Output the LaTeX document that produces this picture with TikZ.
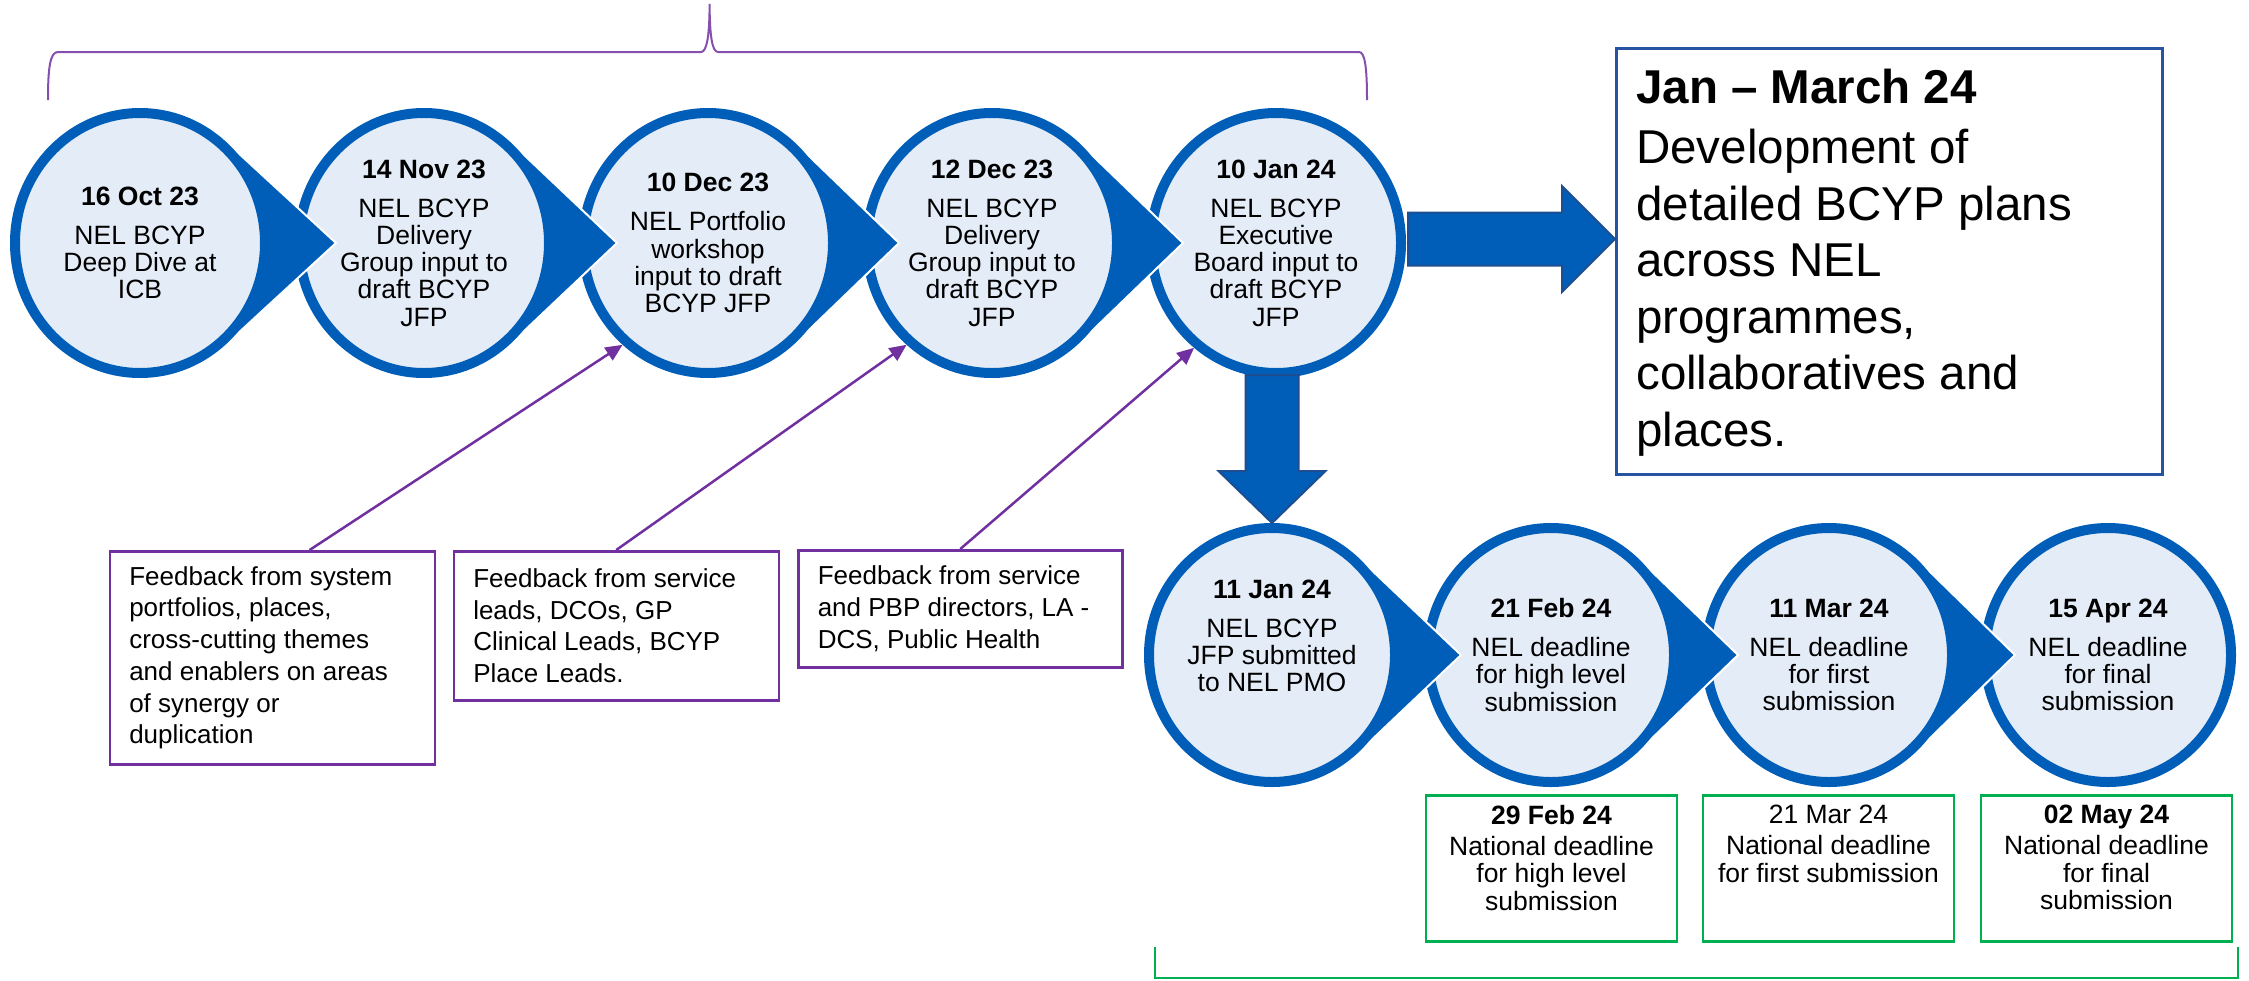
\documentclass[tikz,border=0pt]{standalone}
\usepackage{fontspec}
\setmainfont{Liberation Sans}
\usetikzlibrary{shapes.geometric,calc,arrows.meta}

\definecolor{nhsblue}{RGB}{0,94,184}
\definecolor{stagefill}{RGB}{228,236,247}
\definecolor{arrowedge}{RGB}{28,78,145}
\definecolor{planedge}{RGB}{38,84,160}
\definecolor{fbpurple}{RGB}{112,48,160}
\definecolor{natgreen}{RGB}{0,176,80}

% triangular pointer on the right of a stage: centre, tangent x, tangent y, tip x
\newcommand{\stagepointer}[4]{%
  \path[pointer] ($(#1)+(#2,-#3)$) -- ($(#1)+(#4,0)$) -- ($(#1)+(#2,#3)$);}

\begin{document}
\begin{tikzpicture}[x=1pt,y=-1pt,
  stage/.style={ellipse, draw=nhsblue, fill=stagefill, line width=10pt,
    inner sep=0pt, align=center, text=black,
    font=\fontsize{26.5pt}{27.2pt}\selectfont},
  topstage/.style={stage, minimum width=250pt, minimum height=260pt},
  lowstage/.style={stage, minimum width=246pt, minimum height=254pt},
  pointer/.style={fill=nhsblue, draw=white, line width=2pt},
  fbbox/.style={draw=fbpurple, line width=2.5pt, inner ysep=0pt, inner xsep=19.5pt,
    anchor=north west, font=\fontsize{26pt}{31.7pt}\selectfont},
  natbox/.style={draw=natgreen, line width=2.5pt, inner sep=0pt, anchor=north,
    font=\fontsize{26.5pt}{27.2pt}\selectfont},
  planbox/.style={draw=planedge, line width=2.5pt, inner ysep=0pt, inner xsep=20pt,
    anchor=north west, font=\fontsize{47.5pt}{56.5pt}\selectfont},
  feed/.style={draw=fbpurple, line width=2.5pt, -{Triangle[length=17pt,width=15pt]}},
  bigarrow/.style={fill=nhsblue, draw=arrowedge, line width=2pt},
  brace/.style={draw=fbpurple!85!white, line width=2pt},
  natline/.style={draw=natgreen, line width=2pt}
]
\useasboundingbox (0,0) rectangle (2249,980);

% stage centres
\coordinate (k1) at (140,243);
\coordinate (k2) at (424,243);
\coordinate (k3) at (708,243);
\coordinate (k4) at (992,243);
\coordinate (k5) at (1276,243);
\coordinate (m1) at (1272,655);
\coordinate (m2) at (1551,655);
\coordinate (m3) at (1829,655);
\coordinate (m4) at (2108,655);

% brace over the first five stages
\draw[brace] (48,100) .. controls (48,68) and (50,52) .. (58,52) -- (701,52)
  .. controls (707,52) and (709.5,35) .. (709.6,4)
  .. controls (709.7,35) and (712,52) .. (718,52) -- (1359,52)
  .. controls (1365,52) and (1367,68) .. (1367,100);

% upper row, drawn right to left so each pointer overlaps the next stage
\node[topstage] (c5) at (k5) {\textbf{10 Jan 24}\\[11.8pt]NEL BCYP\\Executive\\Board input to\\draft BCYP\\JFP};
\stagepointer{k4}{87.6}{99.8}{191}
\node[topstage] (c4) at (k4) {\textbf{12 Dec 23}\\[11.8pt]NEL BCYP\\Delivery\\Group input to\\draft BCYP\\JFP};
\stagepointer{k3}{87.6}{99.8}{191}
\node[topstage] (c3) at (k3) {\textbf{10 Dec 23}\\[11.8pt]NEL Portfolio\\workshop\\input to draft\\BCYP JFP};
\stagepointer{k2}{87.6}{99.8}{193}
\node[topstage] (c2) at (k2) {\textbf{14 Nov 23}\\[11.8pt]NEL BCYP\\Delivery\\Group input to\\draft BCYP\\JFP};
\stagepointer{k1}{87.6}{99.8}{196}
\node[topstage] (c1) at (k1) {\textbf{16 Oct 23}\\[11.8pt]NEL BCYP\\Deep Dive at\\ICB};

% lower row
\node[lowstage] (d4) at (m4) {\textbf{15 Apr 24}\\[11.8pt]NEL deadline\\for final\\submission};
\stagepointer{m3}{87.1}{96.7}{186}
\node[lowstage] (d3) at (m3) {\textbf{11 Mar 24}\\[11.8pt]NEL deadline\\for first\\submission};
\stagepointer{m2}{87.1}{96.7}{187}
\node[lowstage] (d2) at (m2) {\textbf{21 Feb 24}\\[11.8pt]NEL deadline\\for high level\\submission};
\stagepointer{m1}{87.1}{96.7}{189}
\node[lowstage] (d1) at (m1) {\textbf{11 Jan 24}\\[11.8pt]NEL BCYP\\JFP submitted\\to NEL PMO\\[11.8pt]\mbox{}};

% planning box
\node[planbox] (plan) at (1615,47) {\parbox[c][426pt][t]{506pt}{\raggedright\vspace*{21pt}%
  \textbf{Jan \textendash{} March 24}\\[3.5pt]Development of\\detailed BCYP plans\\across NEL\\programmes,\\collaboratives and\\places.}};

% block arrows
\coordinate (rtip) at ($(c5.east -| plan.west)+(0,-4)$);
\path[bigarrow] ($(c5.east)+(2,-30.5)$) -- ($(rtip)+(-53,-26.5)$) -- ($(rtip)+(-53,-53)$)
  -- (rtip) -- ($(rtip)+(-53,53)$) -- ($(rtip)+(-53,26.5)$) -- ($(c5.east)+(2,22.5)$) -- cycle;
\coordinate (dtop) at (d1.north |- c5.south);
\path[bigarrow] ($(dtop)+(-26.5,-3)$) -- ($(dtop)+(26.5,-3)$) -- ($(d1.north)+(26.5,-52)$)
  -- ($(d1.north)+(53.5,-52)$) -- (d1.north) -- ($(d1.north)+(-53.5,-52)$)
  -- ($(d1.north)+(-26.5,-52)$) -- cycle;

% feedback boxes
\node[fbbox] (fb1) at (108.5,550) {\parbox[c][213pt][c]{286pt}{\raggedright
  Feedback from system\\portfolios, places,\\cross-cutting themes\\and enablers on areas\\of synergy or\\duplication}};
\node[fbbox] (fb2) at (452.5,550) {\parbox[c][149pt][c]{286pt}{\raggedright
  Feedback from service\\leads, DCOs, GP\\Clinical Leads, BCYP\\Place Leads.}};
\node[fbbox] (fb3) at (797,549) {\parbox[c][117pt][c]{285pt}{\raggedright
  Feedback from service\\\mbox{and PBP directors, LA -}\\DCS, Public Health}};

\draw[feed] ($(fb1.north west)!0.614!(fb1.north east)$) -- (c3.230);
\draw[feed] (fb2.north) -- (c4.230);
\draw[feed] (fb3.north) -- (c5.232);

% national deadlines
\node[natbox] (g1) at (1551.5,794) {\parbox[c][146pt][t]{251pt}{\centering\vspace*{10pt}%
  \textbf{29 Feb 24}\\[4pt]National deadline\\for high level\\submission}};
\node[natbox] (g2) at (1828.5,794) {\parbox[c][146pt][t]{251pt}{\centering\vspace*{10pt}%
  21 Mar 24\\[4pt]National deadline\\for first submission}};
\node[natbox] (g3) at (2106.5,794) {\parbox[c][146pt][t]{251pt}{\centering\vspace*{10pt}%
  \textbf{02 May 24}\\[4pt]National deadline\\for final\\submission}};

% bracket under the national deadlines
\draw[natline] (1155,947) -- (1155,978) -- (2238,978) -- (2238,947);
\end{tikzpicture}
\end{document}
